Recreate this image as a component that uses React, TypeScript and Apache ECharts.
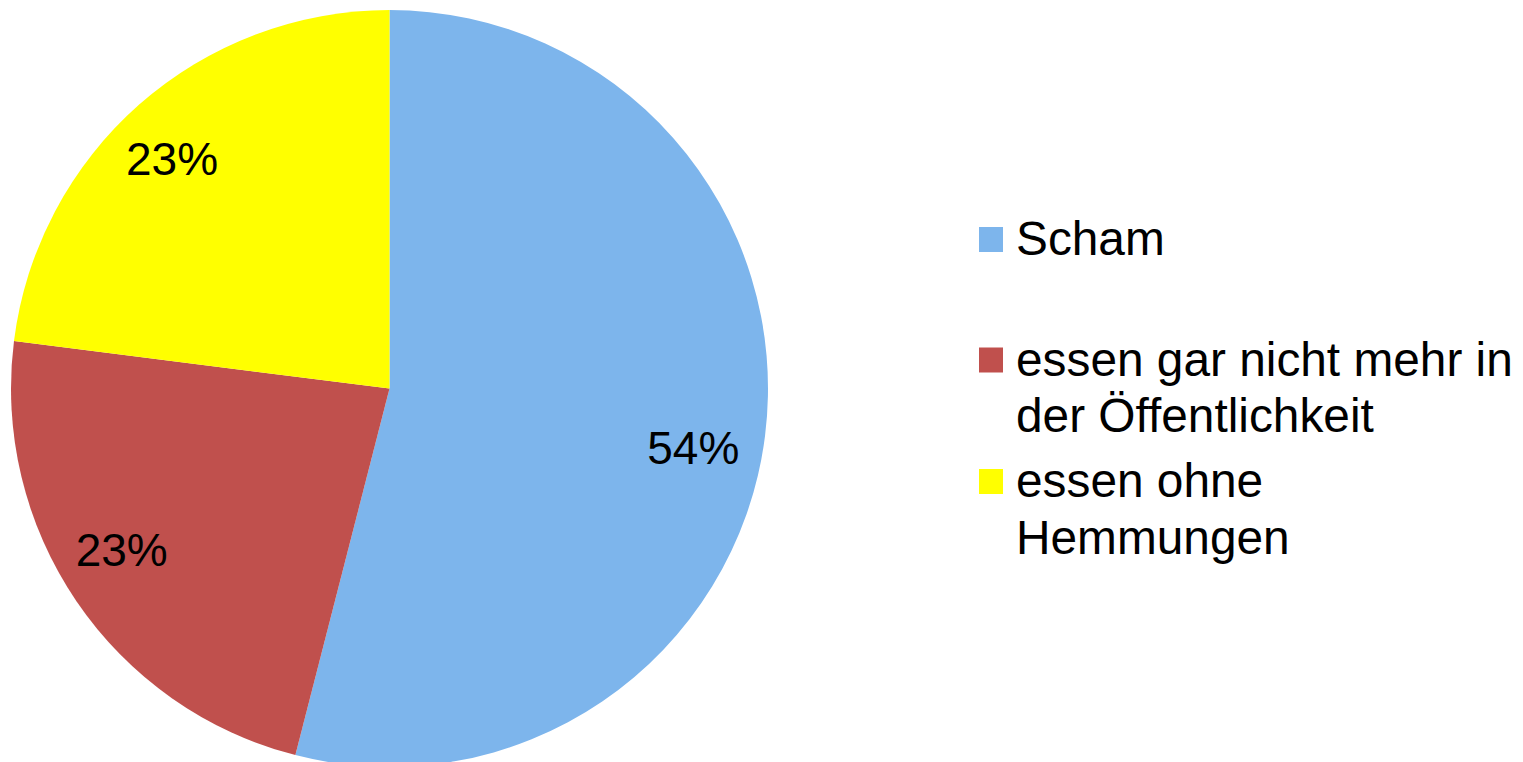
import React, { useEffect, useRef } from "react";
import * as echarts from "echarts";

const categories = ["Scham", "essen gar nicht mehr in der Öffentlichkeit", "essen ohne Hemmungen"];
const legendLines = [["Scham"], ["essen gar nicht mehr in", "der Öffentlichkeit"], ["essen ohne", "Hemmungen"]];
const values = [54, 23, 23];
const colors = ["#7DB5EC", "#C0504D", "#FFFF00"];

const FONT = "'Liberation Sans', Arial, sans-serif";
const CX = 389.5;
const CY = 388.5;
const R = 378.5;
// small label nudges (layout only), per slice
const LABEL_NUDGE = [
  [-9, 20],
  [-7, -16],
  [-9, 7],
];

export default function App() {
  const ref = useRef<HTMLDivElement>(null);
  useEffect(() => {
    if (!ref.current) return;
    const chart = echarts.init(ref.current, null, { renderer: "svg" });

    const legendTops = [238.5, 359, 480.5];
    const lineH = 56.5;
    const graphics: any[] = [];
    categories.forEach((c, i) => {
      const mid = legendTops[i];
      graphics.push({
        type: "rect",
        shape: { x: 979, y: mid - 12.5 + 1, width: 24, height: 25 },
        style: { fill: colors[i] },
        silent: true,
      });
      graphics.push({
        type: "text",
        x: 1016,
        y: mid - lineH / 2,
        style: {
          text: legendLines[i].join("\n"),
          font: `47.8px ${FONT}`,
          fontSize: 47.8,
          fontFamily: FONT,
          fill: "#000",
          lineHeight: lineH,
          verticalAlign: "top",
          align: "left",
        },
        silent: true,
      });
    });

    chart.setOption({
      animation: false,
      backgroundColor: "#ffffff",
      graphic: graphics,
      series: [
        {
          type: "pie",
          center: [CX, CY],
          radius: [0, R],
          startAngle: 90,
          clockwise: true,
          silent: true,
          itemStyle: { borderWidth: 0 },
          label: {
            show: true,
            position: "inside",
            formatter: (p: any) => `${p.value}%`,
            fontSize: 46,
            fontFamily: FONT,
            color: "#000",
          },
          labelLayout: (params: any) => {
            const r = params.labelRect;
            const lx = r.x + r.width / 2;
            const ly = r.y + r.height / 2;
            const k = 0.64;
            const n = LABEL_NUDGE[params.dataIndex] || [0, 0];
            return { dx: (lx - CX) * k + n[0], dy: (ly - CY) * k + n[1] };
          },
          labelLine: { show: false },
          data: categories.map((name, i) => ({
            name,
            value: values[i],
            itemStyle: { color: colors[i] },
          })),
        },
      ],
    });
    return () => chart.dispose();
  }, []);
  return (
    <div
      ref={ref}
      style={{ position: "absolute", left: 0, top: 0, width: 1523, height: 762 }}
    />
  );
}
